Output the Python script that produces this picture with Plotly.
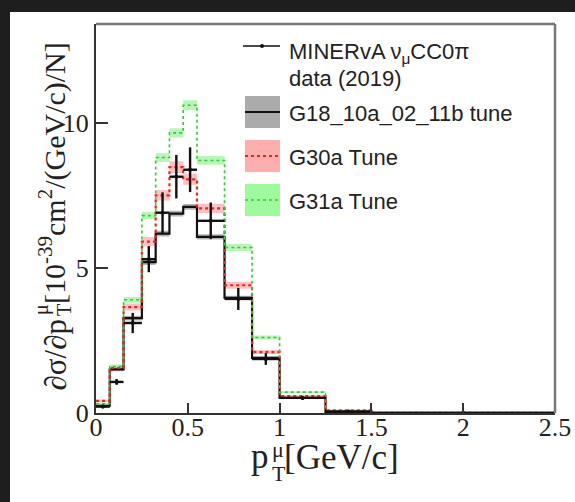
import plotly.graph_objects as go

# MINERvA nu_mu CC0pi differential cross section in muon transverse momentum
bin_edges = [0, 0.075, 0.15, 0.25, 0.325, 0.4, 0.475, 0.55, 0.7, 0.85, 1.0, 1.25, 1.5, 2.5]

data_vals = [0.22, 1.07, 3.10, 5.30, 6.90, 8.14, 8.38, 6.62, 3.93, 1.86, 0.52, 0.05, 0.004]
data_errs = [0.06, 0.10, 0.35, 0.45, 0.70, 0.75, 0.77, 0.63, 0.38, 0.20, 0.07, 0.02, 0.002]

g18_vals = [0.25, 1.50, 3.27, 5.20, 6.18, 6.87, 7.10, 6.07, 3.97, 1.90, 0.52, 0.04, 0.004]
g18_errs = [0.03, 0.06, 0.08, 0.10, 0.10, 0.10, 0.10, 0.09, 0.07, 0.05, 0.02, 0.01, 0.001]

g30_vals = [0.42, 1.55, 3.65, 5.90, 7.50, 8.47, 8.05, 7.05, 4.40, 2.10, 0.58, 0.07, 0.006]
g30_errs = [0.04, 0.08, 0.12, 0.16, 0.18, 0.20, 0.19, 0.16, 0.12, 0.07, 0.03, 0.01, 0.001]

g31_vals = [0.32, 1.60, 3.90, 6.80, 8.80, 9.65, 10.60, 8.70, 5.70, 2.60, 0.72, 0.11, 0.008]
g31_errs = [0.04, 0.07, 0.10, 0.13, 0.15, 0.16, 0.17, 0.15, 0.12, 0.07, 0.03, 0.01, 0.001]

x_ticks = [0, 0.5, 1, 1.5, 2, 2.5]
x_tick_text = ["0", "0.5", "1", "1.5", "2", "2.5"]
y_ticks = [0, 5, 10]
y_tick_text = ["0", "5", "10"]

W, H = 575, 502
L, R, T, B = 96, 555, 24, 413   # plot frame in pixels


def px(xp):
    return (xp - L) / (R - L)


def py(yp):
    return (B - yp) / (B - T)


def step_path(edges, vals):
    xs, ys = [], []
    for i, v in enumerate(vals):
        xs += [edges[i], edges[i + 1]]
        ys += [v, v]
    return xs, ys


def band_polygon(edges, vals, errs):
    xu, yu = step_path(edges, [v + e for v, e in zip(vals, errs)])
    xl, yl = step_path(edges, [max(v - e, 0) for v, e in zip(vals, errs)])
    return xu + xl[::-1] + [xu[0]], yu + yl[::-1] + [yu[0]]


fig = go.Figure()

models = [
    (g18_vals, g18_errs, "rgba(120,120,120,0.55)", "#111111", "solid", 2.2),
    (g30_vals, g30_errs, "rgba(255,120,120,0.45)", "#ee2222", "dot", 2.2),
    (g31_vals, g31_errs, "rgba(110,240,110,0.5)", "#33cc33", "dot", 1.6),
]

for vals, errs, band_col, line_col, dash, lw in models:
    bx, by = band_polygon(bin_edges, vals, errs)
    fig.add_trace(go.Scatter(x=bx, y=by, fill="toself", fillcolor=band_col,
                             line=dict(width=0), mode="lines", hoverinfo="skip",
                             showlegend=False))
for vals, errs, band_col, line_col, dash, lw in models:
    sx, sy = step_path(bin_edges, vals)
    fig.add_trace(go.Scatter(x=sx, y=sy, mode="lines",
                             line=dict(color=line_col, width=lw, dash=dash),
                             showlegend=False))

centers = [(bin_edges[i] + bin_edges[i + 1]) / 2 for i in range(len(data_vals))]
half_w = [(bin_edges[i + 1] - bin_edges[i]) / 2 for i in range(len(data_vals))]
fig.add_trace(go.Scatter(
    x=centers, y=data_vals, mode="markers",
    marker=dict(color="#111111", size=4),
    error_x=dict(type="data", array=half_w, color="#111111", thickness=2.4, width=0),
    error_y=dict(type="data", array=data_errs, color="#111111", thickness=2.4, width=0),
    showlegend=False))

DARK = "#1e1e1e"
shapes = []
# dark canvas border on the left and top (kept inside the page)
shapes.append(dict(type="rect", xref="paper", yref="paper",
                   x0=px(0), x1=px(10), y0=py(0), y1=py(H),
                   fillcolor=DARK, line=dict(width=0), layer="above"))
shapes.append(dict(type="rect", xref="paper", yref="paper",
                   x0=px(0), x1=px(W), y0=py(0), y1=py(12),
                   fillcolor=DARK, line=dict(width=0), layer="above"))
# frame top and right
shapes.append(dict(type="line", xref="paper", yref="paper", x0=0, x1=1, y0=1, y1=1,
                   line=dict(color="#777777", width=2.5)))
shapes.append(dict(type="line", xref="paper", yref="paper", x0=1, x1=1, y0=0, y1=1,
                   line=dict(color="#777777", width=2.5)))

# legend symbols
shapes.append(dict(type="line", xref="paper", yref="paper", x0=px(243), x1=px(280),
                   y0=py(46), y1=py(46), line=dict(color="#111111", width=1.5)))
shapes.append(dict(type="circle", xref="paper", yref="paper", x0=px(260), x1=px(264),
                   y0=py(44), y1=py(48), fillcolor="#111111", line=dict(width=0)))
legend_rows = [
    (112, "rgba(150,150,150,0.8)", "#111111", "solid", 2),
    (156, "rgba(255,160,160,0.85)", "#ee2222", "dot", 2),
    (200, "rgba(140,250,140,0.85)", "#33cc33", "dot", 1.5),
]
for yc, fill, lc, dash, lw in legend_rows:
    shapes.append(dict(type="rect", xref="paper", yref="paper", x0=px(245), x1=px(280),
                       y0=py(yc - 16), y1=py(yc + 16), fillcolor=fill, line=dict(width=0)))
    shapes.append(dict(type="line", xref="paper", yref="paper", x0=px(245), x1=px(280),
                       y0=py(yc), y1=py(yc), line=dict(color=lc, width=lw, dash=dash)))

leg_font = dict(family="Liberation Sans, Arial", size=22, color="#222222")
annotations = [
    dict(text="MINERvA ν<sub>μ</sub>CC0π", x=px(287), y=py(53), xanchor="left", yanchor="middle"),
    dict(text="data (2019)", x=px(287), y=py(79), xanchor="left", yanchor="middle"),
    dict(text="G18_10a_02_11b tune", x=px(287), y=py(113), xanchor="left", yanchor="middle"),
    dict(text="G30a Tune", x=px(287), y=py(157), xanchor="left", yanchor="middle"),
    dict(text="G31a Tune", x=px(287), y=py(201), xanchor="left", yanchor="middle"),
]
for a in annotations:
    a.update(xref="paper", yref="paper", showarrow=False, font=leg_font)


def note(text, xp, yp, size, xanchor="center", yanchor="middle", angle=0):
    annotations.append(dict(
        text=text, x=px(xp), y=py(yp), xref="paper", yref="paper", textangle=angle,
        xanchor=xanchor, yanchor=yanchor, showarrow=False,
        font=dict(family="Liberation Serif, Times New Roman", size=size, color="#222222")))


# x-axis title with stacked sub/superscript
note("p", 271, 456, 35, xanchor="right")
note("μ", 270, 449, 22, xanchor="left")
note("T", 270, 473, 22, xanchor="left")
note("[GeV/c]", 282, 458, 35, xanchor="left")

# y-axis title (rotated), with stacked sub/superscript
note("∂σ/∂p", 55, 393, 31, yanchor="bottom", angle=-90)
note("μ", 41, 310, 20, angle=-90)
note("T", 64, 310, 20, angle=-90)
note("[10<sup>-39</sup>cm<sup>2</sup>/(GeV/c)/N]", 52, 40, 30, yanchor="top", angle=-90)

tick_font = dict(family="Liberation Serif, Times New Roman", size=26, color="#222222")

fig.update_layout(
    width=W, height=H, autosize=False,
    margin=dict(l=L, r=W - R, t=T, b=H - B, pad=0),
    paper_bgcolor="white", plot_bgcolor="white",
    showlegend=False,
    shapes=shapes, annotations=annotations,
    xaxis=dict(range=[0, 2.5], tickvals=x_ticks, ticktext=x_tick_text, ticks="inside",
               ticklen=10, tickwidth=2, tickcolor="#333333", showgrid=False, zeroline=False,
               showline=True, linecolor="#333333", linewidth=2, tickfont=tick_font,
               ticklabelstandoff=-10, automargin=False),
    yaxis=dict(range=[0, 13.4], tickvals=y_ticks, ticktext=y_tick_text, ticks="inside",
               ticklen=12, tickwidth=2, tickcolor="#333333", showgrid=False, zeroline=False,
               showline=True, linecolor="#333333", linewidth=2, tickfont=tick_font,
               automargin=False),
)

fig.write_html("out.html")
